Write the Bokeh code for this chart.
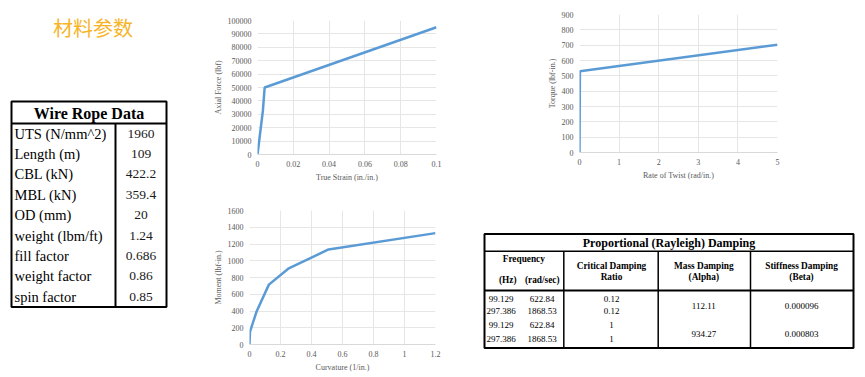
from bokeh.plotting import figure
from bokeh.layouts import row, column
from bokeh.models import Range1d, FixedTicker, ColumnDataSource
from bokeh.core.properties import value
from bokeh.embed import file_html
from bokeh.resources import INLINE

# ---------------- data ----------------
title_text = "材料参数"

rope_header = "Wire Rope Data"
rope_labels = ["UTS (N/mm^2)", "Length (m)", "CBL (kN)", "MBL (kN)", "OD (mm)",
               "weight (lbm/ft)", "fill factor", "weight factor", "spin factor"]
rope_values = ["1960", "109", "422.2", "359.4", "20", "1.24", "0.686", "0.86", "0.85"]

strain = [0, 0.003, 0.004, 0.1]
axial_force = [0, 32500, 50000, 95000]
strain_ticks = [0, 0.02, 0.04, 0.06, 0.08, 0.1]
strain_tick_labels = ["0", "0.02", "0.04", "0.06", "0.08", "0.1"]
force_ticks = [0, 10000, 20000, 30000, 40000, 50000, 60000, 70000, 80000, 90000, 100000]
force_tick_labels = ["0", "10000", "20000", "30000", "40000", "50000", "60000",
                     "70000", "80000", "90000", "100000"]

twist = [0, 0.01, 5]
torque = [0, 530, 703]
twist_ticks = [0, 1, 2, 3, 4, 5]
twist_tick_labels = ["0", "1", "2", "3", "4", "5"]
torque_ticks = [0, 100, 200, 300, 400, 500, 600, 700, 800, 900]
torque_tick_labels = ["0", "100", "200", "300", "400", "500", "600", "700", "800", "900"]

curvature = [0, 0.003, 0.045, 0.125, 0.25, 0.51, 1.2]
moment = [0, 150, 390, 715, 905, 1135, 1330]
curv_ticks = [0, 0.2, 0.4, 0.6, 0.8, 1.0, 1.2]
curv_tick_labels = ["0", "0.2", "0.4", "0.6", "0.8", "1", "1.2"]
moment_ticks = [0, 200, 400, 600, 800, 1000, 1200, 1400, 1600]
moment_tick_labels = ["0", "200", "400", "600", "800", "1000", "1200", "1400", "1600"]

damp_title = "Proportional (Rayleigh) Damping"
damp_hz = ["99.129", "297.386", "99.129", "297.386"]
damp_rad = ["622.84", "1868.53", "622.84", "1868.53"]
damp_ratio = ["0.12", "0.12", "1", "1"]
damp_alpha = ["112.11", "934.27"]
damp_beta = ["0.000096", "0.000803"]

SERIF = value("Liberation Serif")
LINE_BLUE = "#5B9BD5"
GRAY_TXT = "#595959"


def blank_fig(w, h, x0, y0):
    p = figure(width=w, height=h, x_range=Range1d(x0, x0 + w), y_range=Range1d(y0 + h, y0),
               output_backend="svg", toolbar_location=None,
               min_border_left=0, min_border_right=0, min_border_top=0, min_border_bottom=0)
    p.axis.visible = False
    p.grid.visible = False
    p.outline_line_color = None
    return p


def chart(w, h, bl, br, bt, bb, xs, ys, xr, yr, xt, xtl, yt, ytl, xlabel, ylabel):
    p = figure(width=w, height=h, x_range=Range1d(*xr), y_range=Range1d(*yr),
               output_backend="svg", toolbar_location=None,
               min_border_left=bl, min_border_right=br, min_border_top=bt, min_border_bottom=bb)
    p.outline_line_color = None
    p.line(xs, ys, line_color=LINE_BLUE, line_width=2.5)
    p.xaxis.ticker = FixedTicker(ticks=xt)
    p.xaxis.major_label_overrides = dict(zip(xt, xtl))
    p.yaxis.ticker = FixedTicker(ticks=yt)
    p.yaxis.major_label_overrides = dict(zip(yt, ytl))
    p.xaxis.axis_label = xlabel
    p.yaxis.axis_label = ylabel
    for ax in (p.xaxis, p.yaxis):
        ax.major_tick_line_color = None
        ax.minor_tick_line_color = None
        ax.major_tick_out = 0
        ax.major_label_text_font = "Liberation Serif"
        ax.major_label_text_font_size = "8px"
        ax.major_label_text_color = GRAY_TXT
        ax.axis_label_text_font = "Liberation Serif"
        ax.axis_label_text_font_size = "8px"
        ax.axis_label_text_font_style = "normal"
        ax.axis_label_text_color = GRAY_TXT
        ax.major_label_standoff = 6
    p.xaxis.axis_line_color = "#d9d9d9"
    p.yaxis.axis_line_color = None
    p.xaxis.axis_label_standoff = 3
    p.yaxis.axis_label_standoff = 2
    p.grid.grid_line_color = "#e6e6e6"
    p.grid.grid_line_width = 1
    return p


# ---------------- left panel: title + wire rope table ----------------
left = blank_fig(175, 377, 0, 0)
left.text(x=[92.5], y=[27], text=[title_text], text_font=value("Noto Sans CJK SC"),
          text_font_size="20px", text_color="#F6B426", text_align="center", text_baseline="middle")

t_left, t_right, t_top, t_head, t_bot, t_div = 11, 166, 101, 123, 306.5, 115
row_h = (t_bot - t_head) / len(rope_labels)
left.rect(x=[(t_left + t_right) / 2], y=[(t_top + t_bot) / 2], width=t_right - t_left,
          height=t_bot - t_top, fill_color=None, line_color="black", line_width=2)
left.segment(x0=[t_left, t_div], y0=[t_head, t_head], x1=[t_right, t_div], y1=[t_head, t_bot],
             line_color="black", line_width=2)
left.text(x=[(t_left + t_right) / 2], y=[(t_top + t_head) / 2 + 0.5], text=[rope_header],
          text_font=SERIF, text_font_size="16px", text_font_style="bold", text_color="black",
          text_align="center", text_baseline="middle")
ys = [t_head + row_h * (i + 0.5) for i in range(len(rope_labels))]
src = ColumnDataSource(dict(y=ys, lab=rope_labels, val=rope_values,
                            xl=[t_left + 3] * len(ys), xv=[(t_div + t_right) / 2] * len(ys)))
left.text(x="xl", y="y", text="lab", source=src, text_font=SERIF, text_font_size="14.5px",
          text_color="black", text_align="left", text_baseline="middle")
left.text(x="xv", y="y", text="val", source=src, text_font=SERIF, text_font_size="13.5px",
          text_color="#1a1a1a", text_align="center", text_baseline="middle")

# ---------------- charts ----------------
c1 = chart(285, 190, 82, 24, 20, 36, strain, axial_force, (0, 0.1), (0, 100000),
           strain_ticks, strain_tick_labels, force_ticks, force_tick_labels,
           "True Strain (in./in.)", "Axial Force (lbf)")
c3 = chart(285, 187, 74, 25, 20, 33, curvature, moment, (0, 1.2), (0, 1600),
           curv_ticks, curv_tick_labels, moment_ticks, moment_tick_labels,
           "Curvature (1/in.)", "Moment (lbf-in.)")
c2 = chart(405, 190, 119, 88, 14, 38, twist, torque, (0, 5), (0, 900),
           twist_ticks, twist_tick_labels, torque_ticks, torque_tick_labels,
           "Rate of Twist (rad/in.)", "Torque (lbf-in.)")

# ---------------- damping table ----------------
tb = blank_fig(405, 187, 460, 190)
L, R, T, B = 484, 853, 233.5, 347.5
H1, H2 = 250.7, 290
V1, V2, V3 = 563.3, 657.7, 750
tb.rect(x=[(L + R) / 2], y=[(T + B) / 2], width=R - L, height=B - T,
        fill_color=None, line_color="black", line_width=2)
tb.segment(x0=[L, L, V1, V2, V3], y0=[H1, H2, H1, H1, H1],
           x1=[R, R, V1, V2, V3], y1=[H1, H2, B, B, B], line_color="black",
           line_width=[1.5, 2, 1.5, 1.5, 1.5])
tb.text(x=[(L + R) / 2], y=[(T + H1) / 2 + 0.5], text=[damp_title], text_font=SERIF,
        text_font_size="12px", text_font_style="bold", text_color="black",
        text_align="center", text_baseline="middle")
hdr_x = [523.3, 507.3, 541.7, 611, 611, 703.3, 703.3, 801, 801]
hdr_y = [258.3, 279.3, 279.3, 265, 276.7, 265, 276.7, 265, 276.7]
hdr_t = ["Frequency", "(Hz)", "(rad/sec)", "Critical Damping", "Ratio",
         "Mass Damping", "(Alpha)", "Stiffness Damping", "(Beta)"]
tb.text(x=hdr_x, y=hdr_y, text=hdr_t, text_font=SERIF, text_font_size="9.3px",
        text_font_style="bold", text_color="black", text_align="center", text_baseline="middle")
row_y = [298.3, 310.2, 324.3, 338.7]
dsrc = ColumnDataSource(dict(y=row_y, hz=damp_hz, rad=damp_rad, ratio=damp_ratio,
                             x1=[500.7] * 4, x2=[541.5] * 4, x3=[611] * 4))
for col, xc in (("hz", "x1"), ("rad", "x2"), ("ratio", "x3")):
    tb.text(x=xc, y="y", text=col, source=dsrc, text_font=SERIF, text_font_size="9px",
            text_color="black", text_align="center", text_baseline="middle")
msrc = ColumnDataSource(dict(y=[305, 333.3], a=damp_alpha, b=damp_beta,
                             xa=[703.3, 703.3], xb=[801, 801]))
tb.text(x="xa", y="y", text="a", source=msrc, text_font=SERIF, text_font_size="9px",
        text_color="black", text_align="center", text_baseline="middle")
tb.text(x="xb", y="y", text="b", source=msrc, text_font=SERIF, text_font_size="9px",
        text_color="black", text_align="center", text_baseline="middle")

# each figure wrapped in its own container so the column does not align their frames
layout = row(left, column(row(c1), row(c3)), column(row(c2), row(tb)))
open("out.html", "w").write(file_html(layout, INLINE))
